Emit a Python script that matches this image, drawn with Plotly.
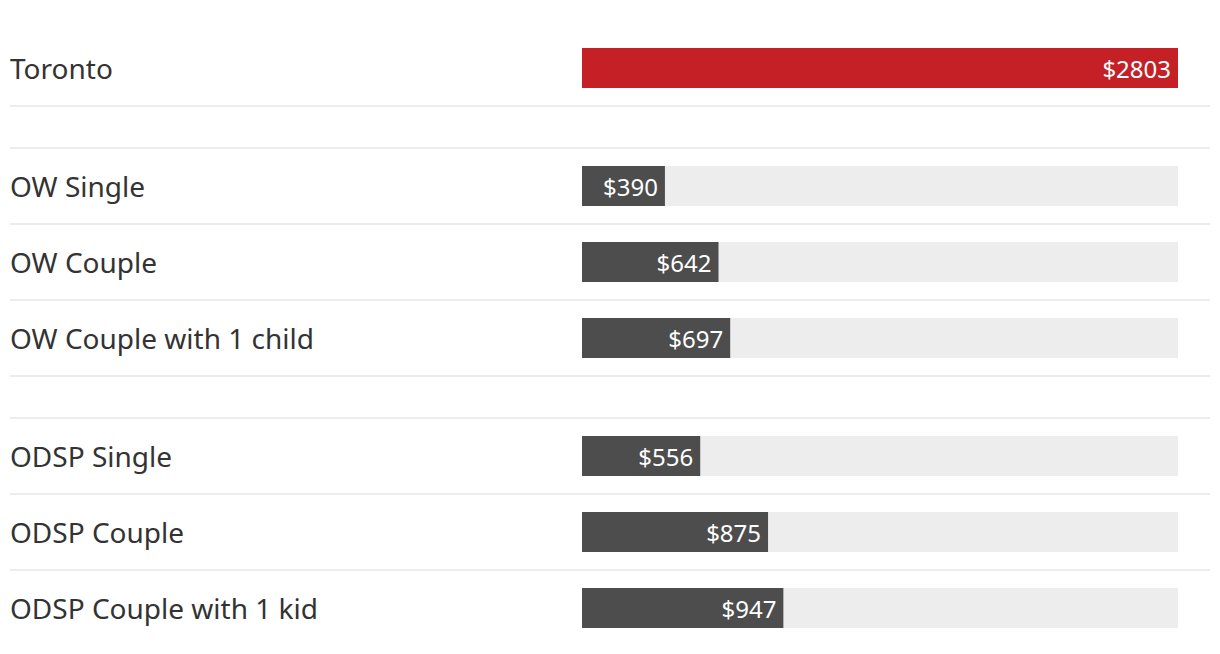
import plotly.graph_objects as go
from plotly.subplots import make_subplots

# ---- data ----
toronto_labels = ["Toronto"]
toronto_values = [2803]
ow_labels = ["OW Single", "OW Couple", "OW Couple with 1 child"]
ow_values = [390, 642, 697]
odsp_labels = ["ODSP Single", "ODSP Couple", "ODSP Couple with 1 kid"]
odsp_values = [556, 875, 947]
max_value = 2803

groups = [
    (toronto_labels, toronto_values, "#c42026"),
    (ow_labels, ow_values, "#4d4d4d"),
    (odsp_labels, odsp_values, "#4d4d4d"),
]

W, H = 1220, 654
off = 8  # page body margin
top, bottom = 30 - off, H - 646 + off
plot_h = H - top - bottom
gap = 42
row_px = (plot_h - 2 * gap) / 7

fig = make_subplots(rows=3, cols=1, shared_xaxes=True,
                    row_heights=[1, 3, 3], vertical_spacing=gap / plot_h)

bar_w = 40 / row_px
line_color = "#ececec"
shapes = []
annotations = []

for i, (labels, vals, color) in enumerate(groups):
    r = i + 1
    fig.add_trace(go.Bar(
        x=[max_value] * len(labels), y=labels, orientation="h",
        marker=dict(color="#ededed", line=dict(width=0)), width=bar_w,
        hoverinfo="skip", showlegend=False), row=r, col=1)
    fig.add_trace(go.Bar(
        x=vals, y=labels, orientation="h",
        marker=dict(color=color, line=dict(width=0)), width=bar_w,
        text=[f"${v}\u2009" for v in vals], textposition="inside",
        insidetextanchor="end",
        textfont=dict(color="white", size=24, family="Noto Sans"),
        cliponaxis=False, showlegend=False), row=r, col=1)
    n = len(labels)
    yname = "y" if r == 1 else f"y{r}"
    fig.update_yaxes(row=r, col=1, type="category", range=[n - 0.5, -0.5],
                     showticklabels=False, showgrid=False, zeroline=False,
                     categoryorder="array", categoryarray=labels)
    # separator lines
    if r > 1:
        shapes.append(dict(type="line", xref="paper", x0=0, x1=1,
                           yref=f"{yname} domain", y0=1, y1=1,
                           line=dict(color=line_color, width=2)))
    for k in range(n - 1):
        shapes.append(dict(type="line", xref="paper", x0=0, x1=1,
                           yref=yname, y0=k + 0.5, y1=k + 0.5,
                           line=dict(color=line_color, width=2)))
    if r < 3:
        shapes.append(dict(type="line", xref="paper", x0=0, x1=1,
                           yref=f"{yname} domain", y0=0, y1=0,
                           line=dict(color=line_color, width=2)))
    for lab in labels:
        annotations.append(dict(text=lab, xref="paper", x=0, xanchor="left",
                                xshift=-2,
                                yref=yname, y=lab, yanchor="middle",
                                showarrow=False,
                                font=dict(size=28, color="#333333",
                                          family="Noto Sans")))

left_m = 10 - off
right_m = W - (1210 - off)
pw = W - left_m - right_m
dom = [(582 - 10) / pw, (1178 - 10) / pw]
fig.update_xaxes(range=[0, max_value], domain=dom, showticklabels=False,
                 showgrid=False, zeroline=False)

fig.update_layout(
    width=W, height=H, barmode="overlay",
    margin=dict(l=left_m, r=right_m, t=top, b=bottom),
    paper_bgcolor="white", plot_bgcolor="white",
    shapes=shapes, annotations=annotations,
    font=dict(family="Noto Sans"),
)

fig.write_html("out.html")
